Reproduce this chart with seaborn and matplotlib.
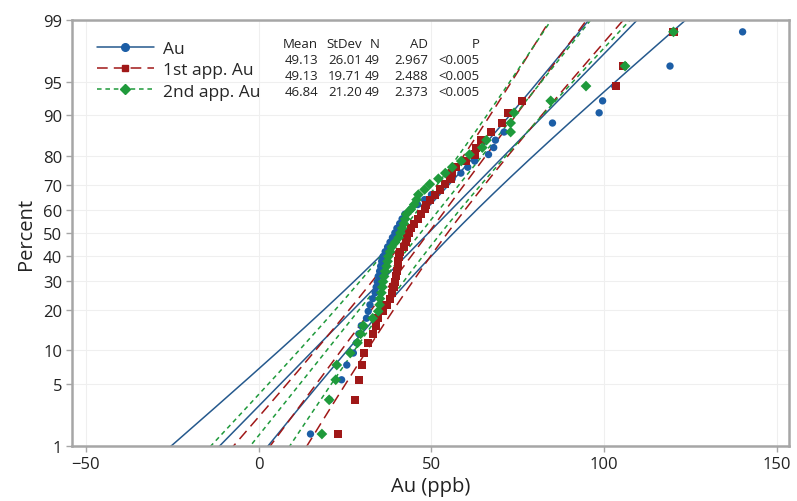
import numpy as np
import pandas as pd
from statistics import NormalDist

import matplotlib
matplotlib.use('Agg')
import matplotlib.pyplot as plt
from matplotlib.lines import Line2D
import seaborn as sns

# sorted sample values (49 per series)
au = [15, 20.5, 24, 25.5, 27.4, 28.3, 29, 29.7, 31.2, 31.7,
      32.2, 33, 33.7, 34, 34.3, 34.6, 35, 35.3, 35.6, 36,
      36.6, 37.3, 38, 38.7, 39.4, 40, 40.8, 41.5, 42.3, 44,
      46, 48, 50, 52.5, 54, 56, 58.5, 60.5, 62.5, 66.5,
      68, 68.5, 71, 85, 98.5, 99.5, 103, 119, 140]
au_1st = [23, 28, 29, 30, 30.5, 31.7, 33, 34, 34.6, 36,
          37, 38, 38.5, 39, 39.4, 39.8, 40, 40.2, 40.4, 40.6,
          41, 42, 42.5, 43, 43.5, 44, 45, 46, 47, 48,
          48.5, 49.5, 51, 52.5, 54, 55.5, 56, 57, 60, 62.7,
          63, 64.3, 67.3, 70.4, 72.2, 76.2, 103.3, 105.3, 120]
au_2nd = [18.3, 20.4, 22.3, 22.6, 26.5, 28.6, 29.5, 30.3, 33, 34.6,
          35, 35.1, 35.5, 35.8, 36, 36.3, 36.6, 37, 37.3, 37.5,
          38, 38.5, 39.5, 40.5, 41, 41.5, 42, 42.4, 42.7, 44,
          45, 45.7, 46.2, 48, 49.5, 52, 54, 56, 58.6, 61,
          64.7, 65.9, 72.9, 72.9, 73.9, 84.5, 94.7, 106, 120]

series = ["Au", "1st app. Au", "2nd app. Au"]
means = [49.13, 49.13, 46.84]
stdevs = [26.01, 19.71, 21.20]
ns = [49, 49, 49]
ads = [2.967, 2.488, 2.373]
pvals = ["<0.005", "<0.005", "<0.005"]

pct_ticks = [1, 5, 10, 20, 30, 40, 50, 60, 70, 80, 90, 95, 99]
x_ticks = [-50, 0, 50, 100, 150]

colors = ["#1c5ea6", "#a01818", "#1f9a3b"]
line_colors = ["#25598d", "#a01818", "#1f9a3b"]
markers = ["o", "s", "D"]
sizes = [28, 34, 30]
styles = ["-", (0, (7, 4)), (0, (3, 2.5))]

nd = NormalDist()

frames = []
for name, vals in zip(series, [au, au_1st, au_2nd]):
    n = len(vals)
    rank = np.arange(1, n + 1)
    p = (rank - 0.3) / (n + 0.4)
    z = [nd.inv_cdf(v) for v in p]
    frames.append(pd.DataFrame({"series": name, "value": sorted(vals), "z": z}))
data = pd.concat(frames, ignore_index=True)

sns.set_theme(style="white")
plt.rcParams['font.family'] = ['Open Sans', 'DejaVu Sans']

fig = plt.figure(figsize=(7.97, 5.02), dpi=100)
ax = fig.add_axes([0.0903, 0.109, 0.9, 0.85])

# fitted lines and 95% confidence bands
zg = np.linspace(-2.8, 2.8, 300)
for i, name in enumerate(series):
    m, s, n = means[i], stdevs[i], ns[i]
    fit = m + zg * s
    half = 1.96 * s * np.sqrt((1 + zg ** 2 / 2) / n)
    for curve in [fit, fit - half, fit + half]:
        ax.plot(curve, zg, color=line_colors[i], lw=1.1, ls=styles[i], zorder=2)

sns.scatterplot(data=data, x="value", y="z", hue="series", style="series",
                palette=dict(zip(series, colors)), markers=dict(zip(series, markers)),
                size="series", sizes=dict(zip(series, sizes)),
                edgecolor="none", legend=False, ax=ax, zorder=3)

zt = [nd.inv_cdf(v / 100) for v in pct_ticks]
ax.set_ylim(zt[0], zt[-1])
ax.set_yticks(zt)
ax.set_yticklabels([str(v) for v in pct_ticks])
ax.set_xlim(-54, 153.5)
ax.set_xticks(x_ticks)

ax.grid(True, color="#efefef", lw=0.8)
for sp in ax.spines.values():
    sp.set_color("#a6a6a6")
    sp.set_linewidth(1.8)
ax.tick_params(axis="both", which="major", direction="out", length=4, width=1,
               color="#a6a6a6", labelsize=12, labelcolor="#222222", pad=3)
ax.tick_params(left=True, bottom=True)

ax.set_xlabel("Au (ppb)", fontsize=14.5, labelpad=3, color="#222222")
ax.set_ylabel("Percent", fontsize=14.5, labelpad=5, color="#222222")

handles = [Line2D([0], [0], color=line_colors[i], ls=styles[i], lw=1.1,
                  marker=markers[i], markerfacecolor=colors[i], markeredgecolor=colors[i],
                  markersize=5.5 if i == 0 else 5)
           for i in range(3)]
ax.legend(handles, series, loc="upper left", bbox_to_anchor=(0.02, 0.975),
          frameon=False, fontsize=12.5, handlelength=3.3, handletextpad=0.5,
          labelspacing=0.3, numpoints=1, borderaxespad=0.2)

# summary table
cols = ["Mean", "StDev", "N", "AD", "P"]
col_x = [318, 362, 380, 428, 480]
rows = [[f"{means[i]:.2f}", f"{stdevs[i]:.2f}", str(ns[i]), f"{ads[i]:.3f}", pvals[i]]
        for i in range(3)]
for j, c in enumerate(cols):
    fig.text(col_x[j] / 797, 1 - 44 / 502, c, ha="right", va="center",
             fontsize=9.5, color="#222222")
    for r in range(3):
        fig.text(col_x[j] / 797, 1 - (60 + r * 16) / 502, rows[r][j], ha="right",
                 va="center", fontsize=9.5, color="#222222")

plt.savefig("out.png", dpi=100)
plt.close()
